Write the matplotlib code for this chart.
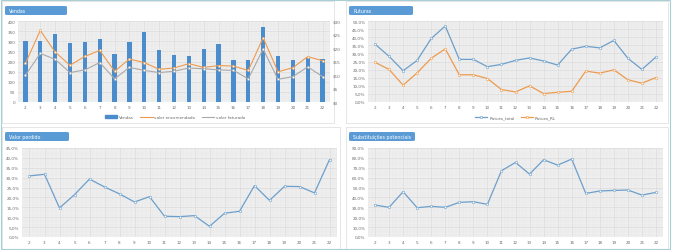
"""Dashboard de vendas, ruturas, valor perdido e substituições (recriação)."""

import matplotlib

matplotlib.use("Agg")
import matplotlib.pyplot as plt
from matplotlib.patches import FancyBboxPatch, Rectangle
from matplotlib.ticker import FuncFormatter, MultipleLocator
from matplotlib.lines import Line2D
from matplotlib.patches import Patch
import numpy as np

# --- dados ---
dias = [str(d) for d in range(2, 23)]

vendas = [300, 300, 334, 293, 296, 311, 235, 298, 346, 257, 234, 227,
          262, 285, 209, 209, 370, 229, 209, 219, 211]
valor_encomendado = [14.3, 26.5, 18.5, 13.6, 16.9, 19.1, 11.4, 15.9, 14.6, 12.1, 12.6,
                     14.2, 12.8, 13.5, 13.3, 11.7, 23.8, 11.2, 12.7, 16.8, 15.3]
valor_faturado = [9.9, 18.0, 15.8, 10.9, 11.9, 14.6, 8.6, 12.8, 11.7, 10.9, 11.4,
                  12.6, 12.3, 11.9, 11.7, 8.6, 19.6, 8.4, 9.4, 13.0, 9.4]

rutura_total = [35.7, 28.2, 19.3, 25.7, 39.2, 46.9, 26.3, 26.3, 21.8, 23.2, 25.7,
                27.2, 25.3, 22.8, 32.6, 34.4, 33.4, 38.0, 27.0, 20.1, 27.8]
rutura_rl = [24.5, 20.1, 10.4, 18.0, 27.0, 32.8, 16.8, 16.8, 14.5, 7.7, 6.2,
             10.0, 5.2, 6.0, 6.6, 19.1, 17.8, 19.9, 13.7, 11.6, 15.1]

valor_perdido = [30.9, 31.7, 14.7, 21.4, 29.3, 25.3, 21.8, 17.7, 20.4, 10.5, 10.3,
                 10.8, 5.4, 12.0, 13.0, 26.0, 18.5, 25.6, 25.5, 22.3, 39.1]

substituicoes = [32.3, 30.0, 45.8, 29.6, 31.0, 30.0, 35.0, 35.7, 33.0, 67.0, 75.4,
                 63.6, 78.1, 72.7, 78.8, 44.1, 46.5, 47.1, 47.5, 42.4, 45.1]

# --- estilo ---
W, H = 675, 251
FS = 3.0
TAB_BLUE = "#5b9bd5"
BAR_BLUE = "#4a8ccc"
ORANGE = "#ee9a4d"
GREY = "#a9a9a9"
LINE_BLUE = "#6c9fcb"
TXT = "#6b6b6b"

fig = plt.figure(figsize=(W / 100, H / 100), dpi=100)
fig.patch.set_facecolor("white")


def frac(x0, y0, x1, y1):
    # caixa em pixels (origem em cima à esquerda) -> fração da figura
    return [x0 / W, 1 - y1 / H, (x1 - x0) / W, (y1 - y0) / H]


def card(x0, y0, x1, y1, title, tab_w):
    fig.patches.append(Rectangle((x0 / W, 1 - y1 / H), (x1 - x0) / W, (y1 - y0) / H,
                                 transform=fig.transFigure, facecolor="white",
                                 edgecolor="#dcdcdc", linewidth=0.5, zorder=0))
    fig.patches.append(FancyBboxPatch(((x0 + 3) / W, 1 - (y0 + 14) / H), tab_w / W, 9 / H,
                                      boxstyle="round,pad=0,rounding_size=0.004",
                                      transform=fig.transFigure, facecolor=TAB_BLUE,
                                      edgecolor="none", zorder=1))
    fig.text((x0 + 7) / W, 1 - (y0 + 9.5) / H, title, color="white", fontsize=3.4,
             va="center", ha="left", zorder=2)


def style_ax(ax):
    ax.set_zorder(5)
    ax.set_facecolor("#efefef")
    ax.set_xlim(-0.5, len(dias) - 0.5)
    ax.set_xticks(np.arange(len(dias)))
    ax.set_xticklabels(dias)
    ax.xaxis.set_minor_locator(MultipleLocator(0.25))
    ax.grid(True, which="major", color="#d6d6d6", linewidth=0.4)
    ax.grid(True, which="minor", color="#e3e3e3", linewidth=0.2)
    ax.tick_params(labelsize=FS, colors=TXT, length=0, pad=2)
    ax.tick_params(which="minor", length=0)
    for s in ax.spines.values():
        s.set_visible(False)
    ax.set_axisbelow(True)


def pct(v, _):
    return f"{v:.1f}%".replace(".", ",")


# moldura exterior
fig.patches.append(Rectangle((0.001, 0.002), 0.992, 0.996, transform=fig.transFigure,
                             facecolor="none", edgecolor="#a8cfd4", linewidth=0.8))

card(2, 2, 334, 124, "Vendas", 62)
card(346, 2, 668, 124, "Ruturas", 64)
card(2, 128, 340, 250, "Valor perdido", 64)
card(346, 128, 668, 250, "Substituições potenciais", 66)

x = np.arange(len(dias))

# Painel 1: vendas
ax1 = fig.add_axes(frac(18, 22, 330, 103))
style_ax(ax1)
ax1.bar(x, vendas, width=0.28, color=BAR_BLUE, zorder=2)
ax1.set_ylim(0, 400)
ax1.yaxis.set_major_locator(MultipleLocator(50))
ax1.yaxis.set_minor_locator(MultipleLocator(12.5))
ax2 = ax1.twinx()
ax2.set_zorder(6)
ax2.patch.set_visible(False)
ax2.plot(x, valor_encomendado, color=ORANGE, lw=0.8, marker="o", ms=1.6,
         mfc="white", mec=ORANGE, mew=0.4, zorder=3)
ax2.plot(x, valor_faturado, color=GREY, lw=0.8, marker="o", ms=1.6,
         mfc="white", mec=GREY, mew=0.4, zorder=3)
ax2.set_ylim(0, 30)
ax2.yaxis.set_major_locator(MultipleLocator(5))
ax2.yaxis.set_major_formatter(FuncFormatter(lambda v, _: f"\\${v:.0f}"))
ax2.tick_params(labelsize=FS, colors=TXT, length=0, pad=2)
for s in ax2.spines.values():
    s.set_visible(False)
ax2.grid(False)
handles = [Patch(color=BAR_BLUE),
           Line2D([], [], color=ORANGE, lw=0.8),
           Line2D([], [], color=GREY, lw=0.8)]
fig.legend(handles, ["Vendas", "valor encomendado", "valor faturado"],
           loc="center", bbox_to_anchor=(175 / W, 1 - 118 / H), ncol=3,
           fontsize=FS, frameon=False, labelcolor=TXT, handlelength=3,
           handleheight=0.6, columnspacing=1.5, handletextpad=0.4)

# Painel 2: ruturas
ax3 = fig.add_axes(frac(368, 22, 663, 103))
style_ax(ax3)
ax3.plot(x, rutura_total, color=LINE_BLUE, lw=0.9, marker="o", ms=1.8,
         mfc="white", mec=LINE_BLUE, mew=0.4)
ax3.plot(x, rutura_rl, color=ORANGE, lw=0.9, marker="o", ms=1.8,
         mfc="white", mec=ORANGE, mew=0.4)
ax3.set_ylim(0, 50)
ax3.yaxis.set_major_locator(MultipleLocator(5))
ax3.yaxis.set_minor_locator(MultipleLocator(1.25))
ax3.yaxis.set_major_formatter(FuncFormatter(pct))
ax3.legend(["Rutura_total", "Rutura_RL"], loc="center",
           bbox_to_anchor=(0.5, -0.19), ncol=2, fontsize=FS, frameon=False,
           labelcolor=TXT, handlelength=3, columnspacing=1.5, handletextpad=0.4)

# Painel 3: valor perdido
ax4 = fig.add_axes(frac(22, 149, 337, 238))
style_ax(ax4)
ax4.plot(x, valor_perdido, color=LINE_BLUE, lw=0.9, marker="o", ms=1.8,
         mfc="white", mec=LINE_BLUE, mew=0.4)
ax4.set_ylim(0, 45)
ax4.yaxis.set_major_locator(MultipleLocator(5))
ax4.yaxis.set_minor_locator(MultipleLocator(1.25))
ax4.yaxis.set_major_formatter(FuncFormatter(pct))

# Painel 4: substituições potenciais
ax5 = fig.add_axes(frac(368, 149, 663, 238))
style_ax(ax5)
ax5.plot(x, substituicoes, color=LINE_BLUE, lw=0.9, marker="o", ms=1.8,
         mfc="white", mec=LINE_BLUE, mew=0.4)
ax5.set_ylim(0, 90)
ax5.yaxis.set_major_locator(MultipleLocator(10))
ax5.yaxis.set_minor_locator(MultipleLocator(2.5))
ax5.yaxis.set_major_formatter(FuncFormatter(pct))

fig.savefig("out.png", dpi=100)
plt.close(fig)
